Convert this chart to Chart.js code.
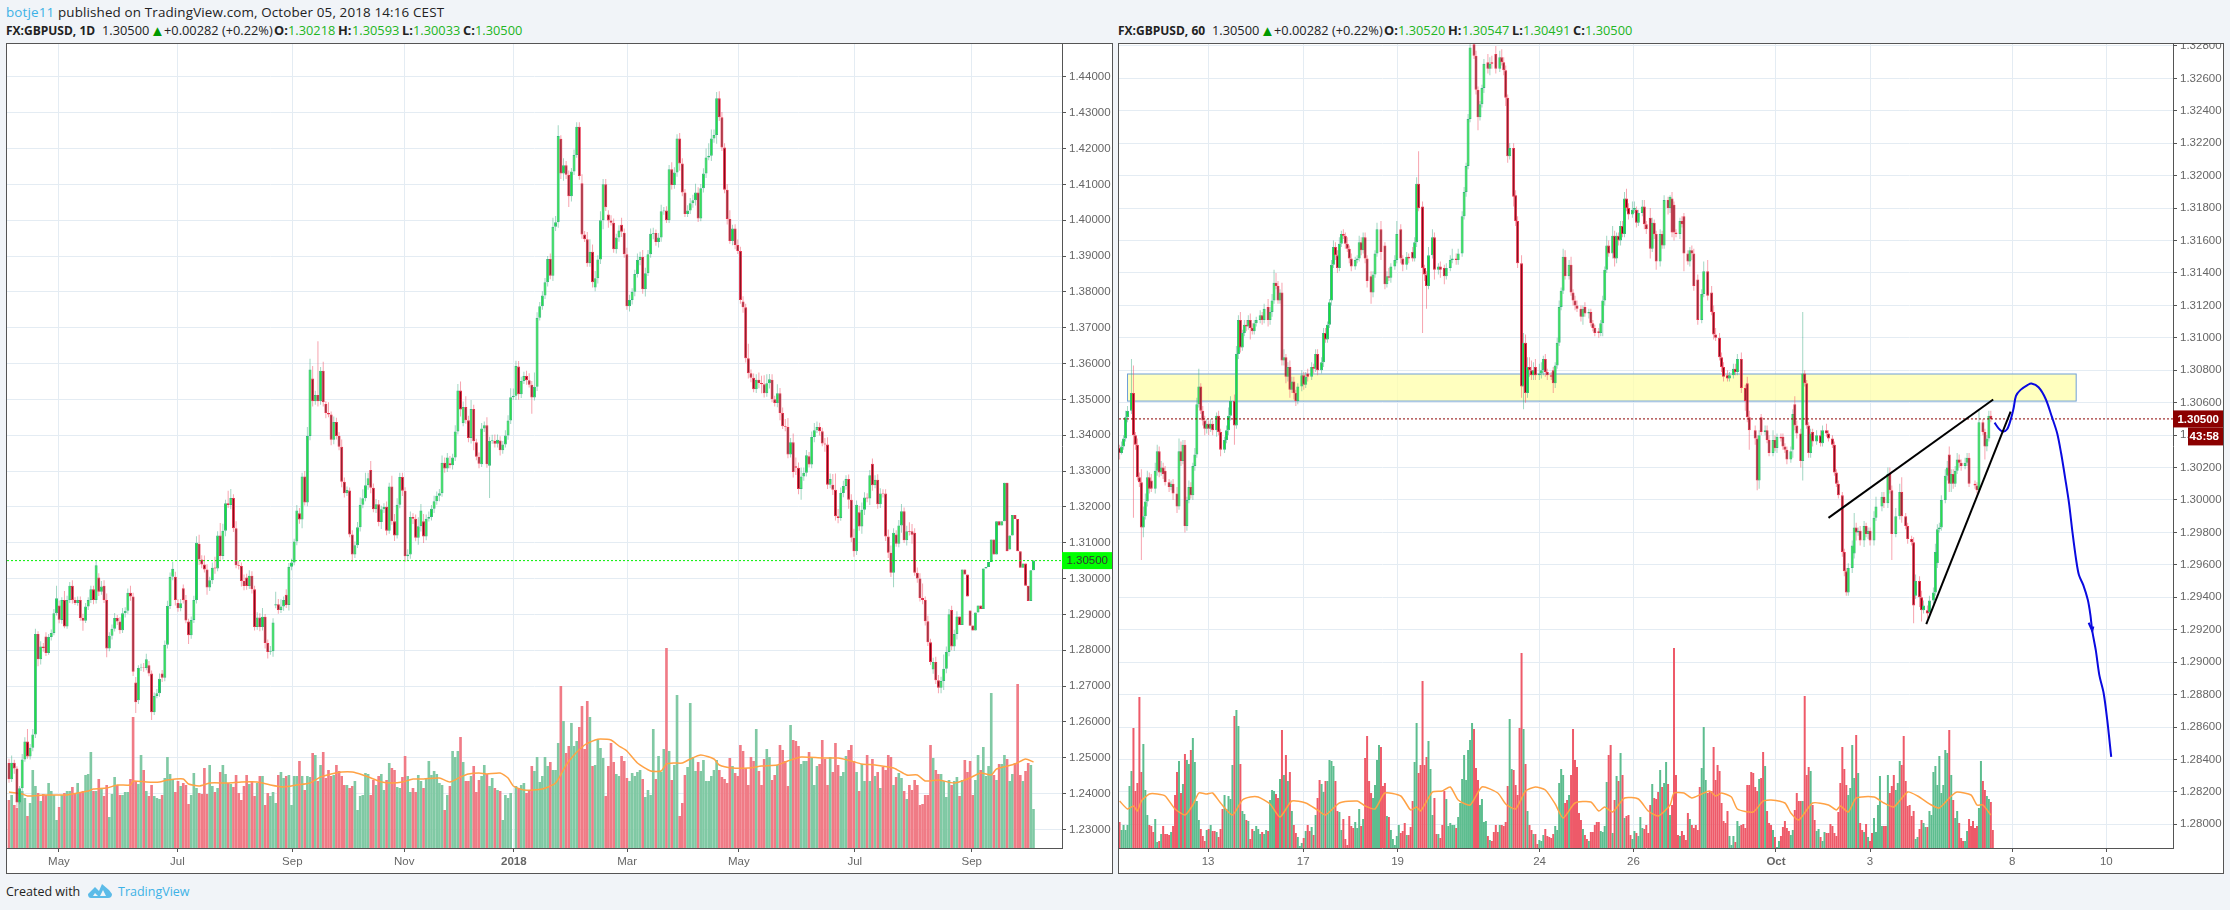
<!DOCTYPE html>
<html>
<head>
<meta charset="utf-8">
<title>GBPUSD</title>
<script src="https://cdn.jsdelivr.net/npm/chart.js@4"></script>
<style>
  html, body { margin: 0; padding: 0; background: #f1f4f8; width: 2230px; height: 910px; overflow: hidden; }
  body { position: relative; font-family: "Open Sans", sans-serif; font-size: 12.8px; color: #222; }
  .txt { position: absolute; white-space: nowrap; line-height: 18px; }
  .label { font-size: 12px; }
  .blue { color: #3db2e6; }
  .val { color: #22b522; }
  .tri { color: #009a00; font-size: 15px; }
  .pane { position: absolute; top: 43px; height: 829px; border: 1px solid #555; background: #fff; }
  canvas { position: absolute; left: 0; top: 0; }
</style>
</head>
<body>
<div class="txt" style="left:6px;top:3px;font-size:13.4px;letter-spacing:0.15px"><span class="blue">botje11</span> published on TradingView.com, October 05, 2018 14:16 CEST</div>
<div class="pane" style="left:6px;width:1105px"><canvas id="dayChart" width="1105" height="829"></canvas></div>
<div class="pane" style="left:1118px;width:1104px"><canvas id="hourChart" width="1104" height="829"></canvas></div>
<div class="txt" style="left:6px;top:883px;font-size:12.5px">Created with</div>
<svg style="position:absolute;left:88px;top:884px" width="24" height="14" viewBox="0 0 24 14"><path d="M0 10 L7 3 L11 7 L14 0 L21 6 L24 10 Q24 14 20 14 L3 14 Q0 14 0 10 Z M7 9 L5 12 L10 12 Z M15 6 L12 12 L18 12 Z" fill="#5cbbe8" fill-rule="evenodd"/></svg>
<div class="txt blue" style="left:118px;top:883px;font-size:12.5px">TradingView</div>

<script>
// prices are kept in pips: 3050 means 1.30500
var dayOpen = [
  2485,2440,2486,2470,2375,2415,2495,2545,2503,2528, 2565,2845,2775,2810,2838,2792,2837,2848,2903,2925,
  2884,2940,2866,2940,2980,2940,2932,2940,2890,2882, 2922,2940,2970,2940,3003,2963,2980,2940,2805,2840,
  2860,2890,2880,2856,2903,2910,2960,2950,2710,2660, 2750,2752,2750,2758,2735,2627,2672,2680,2735,2723,
  2815,2923,3005,3005,2932,2917,2973,2940,2880,2842, 2884,2940,3097,3053,3039,3025,2975,2995,3031,3028,
  3120,3063,3133,3210,3205,3225,3140,3037,3035,2993, 3003,2979,3008,2970,2865,2891,2865,2893,2820,2795,
  2797,2925,2928,2912,2922,2955,2926,3033,3045,3103, 3182,3165,3285,3212,3398,3558,3495,3512,3495,3580,
  3487,3462,3458,3387,3437,3398,3368,3270,3238,3246, 3123,3067,3093,3143,3206,3224,3260,3303,3253,3193,
  3207,3158,3193,3200,3133,3257,3160,3120,3206,3283, 3245,3062,3067,3172,3167,3114,3146,3160,3117,3167,
  3172,3195,3216,3231,3238,3323,3307,3322,3316,3338, 3410,3525,3433,3479,3442,3392,3473,3380,3340,3319,
  3419,3428,3315,3384,3384,3376,3385,3358,3374,3399, 3441,3506,3510,3592,3514,3551,3565,3553,3541,3505,
  3535,3728,3760,3790,3827,3892,3845,3982,3994,
  4227,4130,4153,4127,4067,4136,4182,4261,4103,3960, 3947,3880,3912,3812,3838,3890,4000,4100,4016,3999,
  3993,3919,3952,3987,3965,3905,3760,3777,3800,3850, 3889,3897,3807,3852,3905,3962,3964,3939,3952,4025,
  4027,4000,4142,4098,4133,4228,4158,4077,4017,4027, 4047,4056,4077,4005,4089,4130,4175,4180,4228,4238,
  4340,4287,4203,4085,4003,3942,3977,3931,3914,3773, 3757,3615,3573,3560,3528,3555,3546,3542,3517,3545,
  3555,3500,3490,3517,3462,3425,3423,3346,3380,3313, 3309,3250,3285,3295,3341,3318,3395,3414,3423,3411,
  3377,3374,3262,3262,3248,3174,3169,3239,3258,3278, 3220,3114,3076,3185,3145,3192,3226,3223,3320,3260,
  3276,3207,3237,3237,3117,3072,3016,3123,3097,3148, 3188,3107,3132,3132,3128,3016,3000,2946,2940,2881,
  2822,2746,2767,2716,2695,2714,2748,2795,2912,2810, 2845,2894,2870,3025,3011,2911,2869,2855,2905,2925,
  2915,3028,3032,3046,3109,3067,3160,3148,3160,3267, 3081,3120,3177,3166,3076,3030,3042,2980,2937,3023
];
var dayClose = [
  2440,2486,2470,2375,2415,2495,2545,2503,2528,2565, 2845,2775,2810,2806,2792,2837,2848,2903,2945,2885,
  2940,2866,2940,2980,2940,2932,2940,2890,2882,2922, 2940,2970,2940,3037,2963,2978,2940,2805,2840,2860,
  2890,2880,2856,2903,2910,2960,2950,2740,2655,2750, 2752,2750,2775,2735,2627,2672,2680,2720,2723,2815,
  2923,3005,3027,2940,2917,2931,2940,2883,2842,2884, 2940,3100,3053,3039,3025,2975,2995,3030,3028,3120,
  3063,3133,3210,3205,3225,3140,3037,3035,2993,2979, 2979,3008,2970,2865,2891,2865,2893,2820,2795,2797,
  2877,2928,2912,2922,2940,2926,3033,3045,3103,3190, 3165,3285,3212,3398,3583,3495,3512,3495,3580,3492,
  3462,3458,3387,3437,3398,3368,3270,3238,3247,3123, 3067,3093,3143,3206,3224,3260,3280,3253,3193,3207,
  3158,3193,3200,3133,3257,3160,3120,3206,3283,3245, 3062,3067,3172,3167,3114,3146,3190,3117,3167,3172,
  3195,3216,3231,3238,3323,3307,3338,3316,3338,3410, 3525,3472,3479,3442,3392,3473,3383,3340,3320,3419,
  3428,3319,3384,3386,3376,3387,3358,3374,3399,3441, 3506,3510,3593,3514,3551,3565,3553,3541,3505,3535,
  3728,3760,3790,3827,3892,3845,3982,3994,4235,
  4130,4153,4127,4067,4136,4182,4261,4123,3960,3947, 3880,3912,3827,3838,3890,4000,4100,4036,3999,3993,
  3919,3952,3971,3968,3905,3760,3777,3800,3850,3889, 3897,3807,3852,3905,3962,3964,3939,3952,4025,4027,
  4000,4142,4098,4133,4228,4158,4077,4017,4027,4047, 4056,4077,4005,4089,4130,4175,4180,4228,4238,4340,
  4287,4203,4085,4003,3942,3977,3931,3914,3777,3757, 3615,3573,3560,3528,3555,3546,3542,3517,3545,3556,
  3500,3490,3517,3462,3425,3423,3346,3380,3297,3309, 3250,3285,3295,3344,3318,3395,3414,3423,3411,3377,
  3374,3262,3278,3248,3174,3169,3239,3258,3278,3220, 3114,3076,3206,3145,3192,3226,3223,3288,3260,3276,
  3207,3237,3236,3117,3072,3016,3128,3097,3148,3188, 3107,3132,3130,3122,3016,3000,2946,2940,2881,2822,
  2767,2767,2716,2695,2714,2748,2795,2900,2810,2845, 2894,2870,3025,3011,2950,2868,2855,2905,2925,2915,
  3028,3032,3046,3109,3067,3160,3148,3160,3267,3076, 3120,3177,3166,3076,3030,3042,2980,2937,3023,3050
];
var dayWickUp = [
  12,20,8,6,6,15,12,35,10,15, 15,8,15,10,12,8,10,12,35,14, 8,25,12,10,15,8,10,10,12,10, 8,10,10,15,12,15,15,18,10,12,
  14,8,12,15,10,12,20,10,15,8, 10,12,15,12,8,10,12,15,10,12, 15,12,20,14,10,12,10,14,8,10, 12,18,25,12,25,15,10,15,30,12,
  35,20,10,35,25,10,20,12,10,18, 10,15,12,10,15,12,25,8,10,15, 12,35,15,20,10,15,10,10,8,15, 15,10,15,25,30,35,12,150,10,25,
  8,30,8,15,12,10,20,12,10,8, 12,10,15,20,25,35,15,25,12,15, 12,10,10,15,10,30,20,18,12,12, 10,15,15,10,12,25,18,20,12,15,
  10,15,12,12,20,15,12,20,10,18, 18,25,15,30,12,25,12,10,12,15, 10,22,12,15,18,15,12,10,15,15, 25,20,15,15,12,12,15,20,10,40,
  15,12,12,12,8,15,25,18,30,10, 20,12,12,10,15,12,12,25,10,20, 35,20,20,12,25,15,15,12,15,12, 10,15,20,12,18,15,10,12,18,15,
  20,15,12,15,15,10,12,18,10,12, 12,20,15,12,15,15,10,15,15,15, 25,15,12,15,25,35,25,15,18,20, 15,12,15,25,10,12,15,12,15,10,
  40,10,12,15,20,20,25,25,15,15, 10,25,15,15,20,25,12,25,25,15, 25,15,15,12,15,20,15,12,10,15, 20,15,30,45,20,15,15,10,12,15,
  25,12,18,20,15,12,15,15,12,15, 15,12,12,20,20,12,12,15,20,10, 15,25,20,12,15,15,40,10,15,10, 12,15,15,12,40,15,15,12,12,15
];
var dayWickDown = [
  10,8,15,15,5,8,6,6,8,10, 10,20,15,10,8,5,10,6,6,10, 10,5,6,8,10,6,8,8,28,6, 10,8,12,10,12,8,8,25,8,10,
  8,10,10,8,12,8,12,12,30,10, 8,10,6,8,22,8,6,10,12,10, 10,8,10,15,10,8,10,8,25,10, 8,10,15,10,8,20,10,10,15,8,
  12,10,15,8,12,10,8,10,15,12, 10,8,12,10,8,12,10,15,18,8, 15,8,10,8,12,8,15,10,8,10, 12,25,8,10,12,15,10,15,10,12,
  15,8,15,12,10,10,15,12,8,8, 20,10,8,12,10,8,12,15,8,10, 12,20,10,12,8,10,15,8,10,15, 15,10,12,15,10,20,15,18,10,8,
  10,12,10,15,10,12,10,8,12,10, 8,20,8,10,12,15,25,10,12,8, 10,10,90,8,10,10,15,10,8,12, 10,8,12,15,10,8,12,8,45,8,
  12,8,10,10,12,10,15,12,15,15, 20,12,30,15,10,8,10,12,8,10, 10,15,10,15,12,25,10,20,8,10, 12,12,15,10,10,15,12,12,10,15,
  12,20,8,10,15,10,15,12,10,8, 8,12,10,12,20,10,8,8,10,12, 15,10,8,12,12,8,15,12,25,10, 10,10,15,8,12,12,8,10,15,12,
  15,12,8,10,15,25,12,10,15,8, 10,12,20,8,12,10,8,15,20,15, 30,12,10,8,10,15,8,12,8,20, 12,10,15,12,15,8,12,10,25,12,
  15,10,12,20,15,10,18,15,8,12, 10,10,12,15,12,40,8,10,20,8, 15,10,25,8,12,10,12,12,10,8, 12,10,15,15,25,12,12,10,12,15
];
var dayVolume = [
  48,53,43,40,48,57,50,32,45, 78,62,55,47,54,53,65,57,53,28, 41,53,55,57,57,61,54,65,56,57,
  73,74,96,57,57,69,60,52,63,31, 54,71,63,53,53,56,56,69,131,67, 64,93,78,57,52,63,52,50,49,53,
  70,91,74,68,56,67,62,65,63,44, 53,75,60,55,54,80,54,83,62,56, 60,76,83,74,65,64,61,73,55,48,
  62,73,64,67,52,65,72,72,43,55, 52,56,45,73,76,70,72,73,43, 72,72,87,72,58,72,71,95,93,67,
  83,96,70,78,72,73,83,77,72,63, 63,60,62,67,38,52,53,75,74,53, 68,63,72,74,58,68,85,80,78,61,
  60,71,92,72,56,60,56,73,67,60, 70,87,73,77,74,65,63,38,53,62, 97,91,97,111,86,67,67,72,82,56,
  68,72,83,74,62,70,60,58,57,28, 53,50,55,0,62,60,63,65,55,57, 82,77,91,66,72,91,82,86,78,78, 105,
  162,127,95,102,125,102,107,121,142,99, 147,131,82,83,108,100,90,52,82,105, 86,74,72,92,87,70,67,75,72,76,
  78,69,51,58,53,119,69,92,76,99, 200,97,68,83,153,32,45,73,81,145, 91,77,86,77,88,67,67,72,78,88,
  78,71,69,65,90,82,75,72,103,97, 80,63,91,87,119,77,63,89,99,91, 68,73,83,103,98,87,62,123,108,107,
  102,84,87,87,96,90,63,82,84,108, 89,63,91,76,105,83,72,76,92,98, 103,87,76,57,84,67,93,67,89,72,
  76,60,81,78,93,91,63,71,75,70, 57,49,63,58,68,63,43,44,53,53, 103,90,78,74,74,67,51,68,63,67,
  71,52,68,88,76,87,53,68,93,78, 101,72,82,155,73,68,84,84,93,89, 67,74,85,164,73,67,77,85,83,39
];
var dayMaAt = [0,5,7,13,17,22,26,30,32,37,41,46,47,52,57,60,66,68,72,76,83,88,94,99,104,109,114,118,122,126,130,134,139,141,145,149,153,157,163,167,171,174,178,181,186,189,191,195,202,207,211,214,218,222,224,228,231,234,238,243,247,249,252,255,258,262,267,269,274,280,285,291,295,300,308,314,319,323,328,335,340,344,347,352,358,363,368,372,374,381,385,388];
var dayMa = [56,54,52,53,53,53,55,57,59,60,63,63,67,66,66,68,69,64,62,65,65,66,66,63,61,63,65,71,74,76,76,73,68,66,65,66,69,69,70,66,71,74,75,74,75,70,62,58,59,65,83,93,103,108,109,108,102,97,85,77,77,84,85,85,89,93,89,83,80,80,82,83,87,91,90,90,87,84,83,80,73,73,67,68,65,69,75,73,79,84,89,86];
var dayPriceTicks = [1.23,1.24,1.25,1.26,1.27,1.28,1.29,1.30,1.31,1.32,1.33,1.34,1.35,1.36,1.37,1.38,1.39,1.40,1.41,1.42,1.43,1.44];
var dayTimeTicks = [18.9,63.8,107.3,149.7,191.2,234.1,276.4,320.3,364.6];
var dayTimeLabels = ['May','Jul','Sep','Nov','2018','Mar','May','Jul','Sep'];

// hourly chart, hourSlot says which bar slot each candle sits in
var hourSlot = [
  0,1,2,3,4,6,7,8,9,10, 11,12,13,14,15,16,18,19,20,21, 22,23,25,26,27,29,30,31,32,33, 34,35,36,37,38,39,40,41,42,43,
  44,45,46,47,49,50,51,53,54,55, 56,58,59,60,61,62,63,64,65,66, 67,68,69,71,72,73,75,76,77,78, 79,80,81,82,83,84,85,86,87,88,
  89,90,92,93,94,95,97,98,99,100, 102,103,104,105,106,107,108,109,110,111, 112,113,114,115,116,117,119,120,121,122, 123,124,125,127,128,129,130,132,134,135,
  136,137,139,140,142,143,145,146,148,149, 150,151,153,154,155,156,158,159,161,162, 164,165,167,168,170,171,173,174,175,176, 177,179,180,181,182,183,184,186,187,188,
  190,192,193,194,195,196,197,199,200,201, 203,204,205,206,207,208,209,210,212,213, 214,215,216,218,219,220,221,222,223,224, 225,227,228,229,230,231,233,234,235,237,
  238,239,240,242,243,244,245,246,247,249, 250,251,252,253,254,255,256,257,259,260, 261,262,264,265,266,268,269,270,271,273, 274,275,277,278,279,280,281,283,284,285,
  287,288,289,290,292,294,295,297,299,300, 301,303,304,305,307,308,310,311,312,314, 316,317,318,321,322,323,324,326,327,328, 330,331,332,334,335,336,337,339,340,341,
  342,344,345,346,347,348,349,350,352,354, 355,357,358,360,361,362,363,365,366,367, 368,370,371,372,373,374,376,377,378,379, 381,382,385,386,388,389,390,392,394,395,
  397,398,400,401,402,404,405,406,408,409, 411,412,413,414,415,417,418,419,420,421, 422,423,424,425,427,428,429,432,433,434, 436,437,438,439,440
];
var hourOpen = [
  3032,3029,3033,3038,3051,3055,3066,3040,3034,3014, 3011,2983,2990,2999,3014,3012,3007,3018,3030,3017, 3020,3018,3011,3008,3010,3004,2996,3030,3024,3034, 2984,3000,3008,3003,3021,3028,3059,3070,3055,3049,
  3044,3047,3044,3047,3043,3052,3042,3031,3037,3043, 3052,3061,3046,3090,3111,3094,3103,3108,3107,3111, 3106,3104,3109,3111,3114,3111,3119,3111,3116,3123, 3134,3132,3123,3128,3086,3088,3076,3082,3068,3073,
  3066,3061,3070,3077,3071,3078,3076,3082,3081,3090, 3080,3085,3103,3099,3108,3123,3145,3156,3151,3143, 3158,3164,3163,3158,3155,3149,3144,3148,3149,3159, 3154,3162,3149,3138,3128,3139,3152,3167,3157,3133,
  3138,3137,3144,3148,3167,3149,3145,3150,3153,3149, 3159,3195,3181,3143,3139,3132,3151,3162,3142,3144, 3143,3138,3143,3148,3149,3148,3152,3175,3190,3206, 3235,3281,3274,3253,3236,3244,3254,3270,3266,3270,
  3275,3266,3273,3270,3265,3248,3212,3217,3188,3172, 3146,3070,3097,3066,3082,3080,3077,3082,3077,3078, 3080,3087,3079,3077,3080,3072,3083,3097,3119,3129, 3150,3138,3145,3128,3123,3120,3118,3113,3119,3115,
  3116,3109,3106,3104,3103,3109,3123,3142,3157,3152, 3163,3149,3163,3160,3169,3164,3186,3180,3176,3179, 3179,3171,3177,3181,3170,3174,3155,3171,3164,3147, 3164,3157,3185,3180,3186,3182,3165,3164,3172,3175,
  3152,3147,3154,3152,3136,3111,3127,3141,3128,3116, 3102,3100,3088,3082,3077,3075,3077,3081,3079,3087, 3069,3072,3051,3043,3038,3012,3051,3042,3043,3037, 3029,3037,3032,3039,3039,3033,3031,3025,3031,3059,
  3046,3041,3024,3078,3072,3046,3029,3042,3036,3040, 3035,3043,3041,3038,3034,3017,3010,3003,2968,2956, 2943,2958,2967,2983,2980,2981,2975,2984,2979,2981, 2975,2989,2996,3002,2998,3016,3006,2979,2990,3005,
  2990,2984,2976,2974,2941,2950,2940,2932,2932,2931, 2938,2943,2961,2982,2983,3000,3015,3028,3010,3016, 3010,3018,3025,3023,3021,3023,3026,3010,3009,3006, 3048,3042,3033,3038,3052
];
var hourClose = [
  3029,3033,3038,3051,3055,3066,3040,3034,3014,3011, 2983,2990,2999,3014,3007,3007,3018,3030,3017,3020, 3016,3011,3008,3010,3004,2996,3030,3024,3034,2984, 3000,3008,3003,3021,3028,3059,3070,3055,3049,3044,
  3047,3044,3047,3043,3052,3042,3031,3037,3043,3052, 3061,3046,3090,3111,3094,3103,3108,3107,3111,3106, 3104,3109,3111,3114,3111,3118,3111,3116,3123,3134, 3132,3123,3128,3086,3088,3076,3082,3068,3073,3066,
  3061,3070,3077,3071,3076,3076,3082,3081,3090,3080, 3085,3103,3099,3108,3122,3145,3156,3151,3143,3158, 3164,3163,3158,3155,3149,3144,3148,3149,3159,3154, 3162,3149,3135,3128,3139,3152,3167,3153,3133,3138,
  3137,3144,3148,3164,3149,3145,3150,3149,3149,3159, 3195,3180,3143,3139,3132,3151,3162,3142,3144,3142, 3138,3143,3148,3149,3148,3152,3175,3190,3206,3235, 3279,3274,3253,3236,3244,3254,3269,3266,3269,3269,
  3266,3273,3270,3265,3248,3212,3217,3187,3172,3146, 3070,3097,3066,3082,3080,3077,3080,3077,3078,3080, 3087,3079,3077,3076,3072,3083,3097,3119,3129,3150, 3138,3145,3128,3123,3120,3118,3113,3118,3115,3116,
  3109,3106,3103,3103,3109,3123,3142,3157,3152,3163, 3149,3163,3160,3169,3164,3186,3180,3176,3179,3180, 3171,3177,3181,3170,3167,3155,3171,3164,3147,3164, 3157,3185,3180,3187,3165,3165,3164,3172,3170,3152,
  3147,3154,3152,3132,3111,3127,3141,3126,3116,3102, 3100,3088,3082,3076,3075,3077,3081,3079,3087,3069, 3061,3051,3043,3038,3012,3040,3042,3043,3037,3029, 3037,3032,3039,3038,3033,3031,3025,3030,3053,3046,
  3041,3024,3078,3072,3046,3029,3041,3036,3040,3035, 3043,3041,3038,3034,3017,3010,3003,2968,2956,2943, 2958,2972,2983,2980,2981,2975,2984,2979,2981,2975, 2989,2996,3002,2998,3016,3006,2979,2990,3005,2990,
  2984,2976,2974,2935,2950,2940,2932,2935,2930,2938, 2943,2968,2982,2983,3000,3015,3020,3010,3016,3010, 3018,3025,3023,3021,3023,3026,3010,3009,3006,3048, 3042,3033,3038,3052,3050
];
var hourWickUp = [
  2,3,2,4,3,21,17,2,4,3, 8,6,5,4,3,4,5,4,3,4, 3,3,2,2,3,4,8,6,3,3, 2,4,3,2,4,4,11,2,3,3,
  3,2,3,2,2,3,2,2,3,5, 3,4,5,3,5,2,3,3,3,4, 3,2,2,3,2,3,5,3,4,8, 6,3,2,6,5,2,3,4,3,3,
  2,2,3,2,3,3,3,2,3,3, 3,3,3,2,2,3,4,3,3,4, 2,3,2,4,2,3,2,2,4,3, 3,3,2,3,2,2,4,5,2,3,
  5,2,3,8,3,2,3,2,3,3, 4,20,3,2,2,5,5,3,2,3, 2,3,3,6,3,3,3,3,2,3, 2,6,3,2,2,2,3,5,4,4,
  5,4,5,3,3,2,3,3,3,3, 5,6,5,6,6,6,5,5,6,5, 2,3,2,2,2,2,3,4,2,5, 4,3,5,2,3,3,2,2,3,2,
  2,2,2,2,2,3,2,6,3,6, 3,2,2,3,3,4,6,3,5,4, 2,2,4,4,2,6,3,2,2,3, 2,3,2,1,4,2,2,2,3,2,
  2,2,3,3,3,3,6,7,4,4, 4,3,3,3,3,2,3,3,3,4, 2,4,4,3,2,3,2,3,3,3, 6,3,2,2,2,2,2,3,3,5,
  3,3,38,2,2,2,3,2,3,3, 3,4,2,2,2,2,2,2,2,2, 3,3,9,3,2,3,3,2,2,2, 4,6,3,3,4,4,3,5,5,9,
  2,2,2,3,4,3,4,3,3,3, 3,5,3,3,3,4,4,5,3,3, 3,4,3,2,3,3,3,2,2,8, 2,2,2,3,3
];
var hourWickDown = [
  4,1,2,2,3,2,51,3,2,3, 20,6,2,3,3,2,3,3,3,2, 3,2,3,2,4,4,2,3,2,4, 3,2,2,3,3,2,2,2,3,4,
  3,4,2,3,4,2,4,2,2,3, 3,12,2,3,3,2,2,3,2,7, 2,2,2,2,3,2,4,3,3,2, 2,2,2,3,3,4,3,5,2,4,
  3,2,3,3,2,3,2,3,2,3, 2,3,2,2,2,3,2,3,3,2, 2,2,3,2,3,3,2,2,2,3, 2,3,4,7,3,2,2,5,3,2,
  2,3,2,2,3,4,3,3,2,2, 3,2,40,4,14,2,2,6,3,5, 5,2,2,2,3,3,2,2,3,2, 2,2,3,8,2,2,3,3,4,3,
  3,2,2,3,5,4,2,6,3,3, 7,14,6,3,4,3,3,3,3,3, 3,3,3,2,6,3,2,2,2,2, 2,2,2,3,3,2,3,5,2,3,
  2,2,2,3,2,8,3,2,2,3, 5,3,3,3,2,2,2,3,2,2, 3,2,2,3,3,6,2,3,5,3, 2,2,4,3,3,5,2,3,2,11,
  2,3,4,3,3,2,2,3,2,3, 2,2,3,3,2,2,2,2,2,3, 6,3,12,4,6,5,2,2,2,2, 2,2,3,2,2,2,3,2,5,3,
  3,4,12,2,2,3,3,3,2,2, 2,2,2,2,2,2,2,3,3,2, 2,3,3,5,2,3,4,2,3,3, 3,2,3,3,3,2,16,2,2,4,
  2,3,2,11,2,6,7,2,3,2, 2,2,3,2,2,2,3,5,5,3, 2,2,3,3,2,2,2,2,2,2, 2,8,3,2,2
];
var hourVolume = [
  26,18,23,18,23,62,77,120,57,65, 151,76,104,58,33,23,22,16,29,6, 7,14,22,14,14,13,16,22,53,76,
  87,55,64,94,88,84,98,110,86,47,28, 19,12,7,18,19,23,17,17,16,11, 19,39,53,39,52,49,83,132,138,122,
  84,37,34,28,27,9,19,17,22,19,14, 16,14,18,17,48,58,57,54,50,69, 118,73,93,67,76,37,23,15,11,2,
  5,10,17,23,17,21,13,33,50,68,64, 56,67,67,88,87,82,67,37,36,18, 29,9,3,32,22,20,26,20,39,22,
  29,90,112,67,55,50,63,88,103,101, 62,65,32,31,18,9,3,12,23,15, 17,25,13,13,21,47,86,125,75,83,
  167,83,91,107,79,33,50,14,14,10, 23,57,49,22,25,23,23,20,31,45, 69,93,68,98,108,125,119,80,68,43,
  49,26,27,12,8,7,16,23,16,23,23, 22,26,62,129,79,78,63,53,120,195, 119,84,37,23,18,14,14,4,8,7,
  13,19,12,11,10,14,22,18,65,79,73,45, 48,53,73,119,88,81,35,28,19,13, 9,7,16,16,23,26,26,17,16,22,
  66,93,103,15,48,72,67,95,73,30, 32,33,13,9,17,15,12,31,20,19, 23,15,43,64,50,49,56,78,61,65, 86,64,33,
  43,200,73,13,12,17,13,8,35,29,23, 20,23,18,61,80,121,68,55,57,57, 101,68,83,77,45,27,25,37,12,3,
  12,6,27,22,23,24,20,63,63,76, 75,61,57,69,70,96,82,37,25,23, 18,11,1,7,12,21,27,20,17,13,
  18,38,55,47,47,47,152,73,81,77, 43,28,17,19,11,7,16,15,15,24, 22,15,12,36,65,101,79,63,53,60,
  103,70,113,75,25,18,16,24,11,7, 15,30,16,43,72,22,22,22,73,55, 62,73,58,65,87,83,112,67,42,43,
  32,37,9,11,19,28,25,21,21,37, 33,76,82,63,92,55,63,98,95,118, 73,48,30,37,25,10,7,7,17,29,
  22,27,20,22,40,87,67,58,52,49, 46,18
];
var hourMaAt = [0,4,7,9,11,15,19,23,28,33,37,40,44,47,51,57,62,66,70,76,81,87,94,100,104,111,120,124,129,134,142,147,150,152,158,163,167,171,177,183,191,195,200,205,210,215,220,224,230,238,242,245,249,255,262,267,272,278,280,285,289,294,298,301,304,309,312,320,325,329,336,339,343,350,358,362,364,368,372,381,386,391,398,403,410,414,420,423,430,433,436,440];
var hourMa = [47,39,42,37,47,54,54,52,39,33,43,55,54,55,45,33,48,51,51,44,31,47,45,38,33,45,47,42,39,55,52,38,41,37,56,57,61,48,43,61,55,44,39,57,61,58,44,30,45,46,37,41,36,50,49,37,32,43,55,55,50,54,57,52,55,51,39,36,47,48,45,35,28,45,43,38,42,36,50,51,45,41,56,52,43,40,52,56,53,43,43,33];
var hourPriceTicks = [1.28,1.282,1.284,1.286,1.288,1.29,1.292,1.294,1.296,1.298,1.30,1.302,1.304,1.306,1.308,1.31,1.312,1.314,1.316,1.318,1.32,1.322,1.324,1.326,1.328];
var hourTimeTicks = [44.7,92.7,140.4,212.1,259.5,331.5,379,450.8,498.3];
var hourTimeLabels = ['13','17','19','24','26','Oct','3','8','10'];

// drawings on the hourly chart, in bar slots and pips
var topLineSlots = [358,441.2];
var topLinePips = [2989,3062];
var lowLineSlots = [407.4,450];
var lowLinePips = [2923.5,3054.5];
var curveSlots = [441.9,443.9,446,448.2,450,451.5,452.7,455,458.7,460.5,464.1,467.7,470.8,473.5,475.5,477.7,479.5,481.3,483.1,484.5,486.7,489,490.3,491.2,493,494.8,497,498.8,500.8];
var curvePips = [3047.7,3044.2,3042.2,3043.6,3049.4,3056.6,3064.2,3067.9,3071,3071.8,3069.5,3062.3,3051.4,3041.2,3028.8,3012.3,2997.9,2979.4,2963,2953.7,2947.5,2938.3,2929,2919.4,2907.4,2892,2880.7,2864.2,2841.6];
var arrowSlots = [489.4,491.2,491.8];
var arrowPips = [2924.3,2919.4,2922];
var zoneSlots = [4,483.1];
var zonePrices = [1.30610,1.30777];

var lastPrice = 1.305;

// header row: label, then O H L C
var dayHeader = ['FX:GBPUSD, 1D','1.30218','1.30593','1.30033','1.30500'];
var hourHeader = ['FX:GBPUSD, 60','1.30520','1.30547','1.30491','1.30500'];

function headerRow(offset, labelLeft, values) {
  var parts = [
    [labelLeft, '<b class="label">' + values[0] + '</b>'],
    [102, '1.30500'],
    [150, '<span class="tri">▲</span>'],
    [164, '+0.00282 (+0.22%)'],
    [274, '<b>O:</b>'], [288, '<span class="val">' + values[1] + '</span>'],
    [338, '<b>H:</b>'], [352, '<span class="val">' + values[2] + '</span>'],
    [402, '<b>L:</b>'], [413, '<span class="val">' + values[3] + '</span>'],
    [463, '<b>C:</b>'], [475, '<span class="val">' + values[4] + '</span>']
  ];
  parts.forEach(function (p) {
    var el = document.createElement('div');
    el.className = 'txt';
    el.style.left = (offset + p[0]) + 'px';
    el.style.top = '21px';
    el.innerHTML = p[1];
    document.body.appendChild(el);
  });
}

headerRow(0, 6, dayHeader);
headerRow(1110, 8, hourHeader);

function price(pips) {
  return 1 + pips / 10000;
}

function xyLine(xs, ys, color, width, tension) {
  return {
    type: 'line',
    data: xs.map(function (x, i) { return { x: x, y: price(ys[i]) }; }),
    borderColor: color,
    borderWidth: width,
    pointRadius: 0,
    tension: tension || 0,
    order: 0
  };
}

function candleSets(slots, opens, closes, ups, downs) {
  var wicks = [], bodies = [], wickColors = [], bodyColors = [], edgeColors = [];
  opens.forEach(function (o, i) {
    var c = closes[i];
    var rising = c >= o;
    var high = Math.max(o, c) + (ups[i] || 0);
    var low = Math.min(o, c) - (downs[i] || 0);
    wicks.push({ x: slots[i], y: [price(low), price(high)] });
    bodies.push({ x: slots[i], y: [price(o), price(c)] });
    wickColors.push(rising ? 'rgba(70,175,135,0.5)' : 'rgba(240,90,110,0.55)');
    bodyColors.push(rising ? '#12e335' : '#7d0413');
    edgeColors.push(rising ? '#39b97c' : '#e6304a');
  });
  return [
    { data: wicks, backgroundColor: wickColors, barThickness: 1, order: 3 },
    { data: bodies, backgroundColor: bodyColors, borderColor: edgeColors, borderWidth: 1, borderSkipped: false, barThickness: 3, order: 2 }
  ];
}

function volumeSet(slots, opens, closes, volume, thickness, green, red) {
  // a slot without its own candle takes the colour of the candle before it
  var colors = [];
  var k = 0;
  volume.forEach(function (v, i) {
    while (k < slots.length - 1 && slots[k + 1] <= i) k++;
    colors.push(closes[k] >= opens[k] ? green : red);
  });
  return {
    yAxisID: 'y2',
    data: volume.map(function (v, i) { return { x: i, y: v }; }),
    backgroundColor: colors,
    barThickness: thickness,
    order: 5
  };
}

function maSet(at, values) {
  return {
    type: 'line',
    yAxisID: 'y2',
    data: at.map(function (x, i) { return { x: x, y: values[i] }; }),
    borderColor: '#ffa245',
    borderWidth: 1.5,
    pointRadius: 0,
    tension: 0.2,
    order: 4
  };
}

function lastPriceSet(xMin, xMax, color) {
  return {
    type: 'line',
    data: [{ x: xMin, y: lastPrice }, { x: xMax, y: lastPrice }],
    borderColor: color,
    borderWidth: 1,
    borderDash: [2, 2],
    pointRadius: 0,
    order: 1
  };
}

function tag(chart, value, top, height, left, fill, color, text, bold) {
  var ctx = chart.ctx;
  var y = value === null ? top : chart.scales.y.getPixelForValue(value) - height / 2;
  ctx.save();
  ctx.fillStyle = fill;
  ctx.fillRect(left, y, chart.width - left, height);
  ctx.fillStyle = color;
  ctx.font = (bold ? 'bold ' : '') + '11.5px "Liberation Sans"';
  ctx.textBaseline = 'middle';
  ctx.textAlign = 'right';
  ctx.fillText(text, chart.width - 4, y + height / 2 + 0.5);
  ctx.restore();
}

function makeChart(id, cfg) {
  return new Chart(document.getElementById(id), {
    type: 'bar',
    data: { datasets: cfg.datasets },
    options: {
      responsive: false,
      animation: false,
      devicePixelRatio: 1,
      events: [],
      layout: { padding: 0 },
      datasets: { bar: { grouped: false, inflateAmount: 0 } },
      plugins: { legend: { display: false }, tooltip: { enabled: false } },
      scales: {
        x: {
          type: 'linear',
          offset: false,
          min: cfg.xMin,
          max: cfg.xMax,
          grid: { color: '#e4ecf3', tickColor: '#555', tickLength: 4, offset: false },
          border: { color: '#555' },
          ticks: {
            autoSkip: false,
            maxRotation: 0,
            padding: 3,
            color: '#666',
            font: function (c) {
              var label = c.tick ? cfg.timeLabels[cfg.timeTicks.indexOf(c.tick.value)] : '';
              return { family: '"Liberation Sans"', size: 11.5, weight: (label === '2018' || label === 'Oct') ? 'bold' : 'normal' };
            },
            callback: function (v) { return cfg.timeLabels[cfg.timeTicks.indexOf(v)]; }
          },
          afterBuildTicks: function (s) {
            s.ticks = cfg.timeTicks.map(function (v) { return { value: v }; });
          },
          afterFit: function (s) { s.height = 25; s.paddingLeft = 0; s.paddingRight = 0; }
        },
        y: {
          position: 'right',
          min: cfg.yMin,
          max: cfg.yMax,
          grid: { color: '#e4ecf3', tickColor: '#555', tickLength: 4 },
          border: { color: '#555' },
          ticks: {
            padding: 3,
            color: '#666',
            autoSkip: false,
            font: { family: '"Liberation Sans"', size: 11.5 },
            callback: function (v) { return v.toFixed(5); }
          },
          afterBuildTicks: function (s) {
            s.ticks = cfg.priceTicks.map(function (v) { return { value: v }; });
          },
          afterFit: function (s) { s.width = 50; s.paddingTop = 0; s.paddingBottom = 0; }
        },
        y2: { display: false, min: 0, max: 804 }
      }
    },
    plugins: cfg.plugins
  });
}

var dayXMin = -0.76, dayXMax = 398.8;
var daySlots = dayOpen.map(function (o, i) { return i; });

makeChart('dayChart', {
  xMin: dayXMin, xMax: dayXMax, yMin: 1.2248, yMax: 1.44917,
  priceTicks: dayPriceTicks, timeTicks: dayTimeTicks, timeLabels: dayTimeLabels,
  datasets: [
    volumeSet(daySlots, dayOpen, dayClose, dayVolume, 2.64, '#80c9a4', '#f07b86'),
    maSet(dayMaAt, dayMa)
  ].concat(candleSets(daySlots, dayOpen, dayClose, dayWickUp, dayWickDown), [
    lastPriceSet(dayXMin, dayXMax, '#00f000')
  ]),
  plugins: [{
    id: 'dayTag',
    afterDraw: function (chart) {
      tag(chart, lastPrice, 0, 17, chart.chartArea.right, '#00ff00', '#333', lastPrice.toFixed(5), false);
    }
  }]
});

var hourXMin = -0.3, hourXMax = 532;

makeChart('hourChart', {
  xMin: hourXMin, xMax: hourXMax, yMin: 1.27854, yMax: 1.32812,
  priceTicks: hourPriceTicks, timeTicks: hourTimeTicks, timeLabels: hourTimeLabels,
  datasets: [
    volumeSet(hourSlot, hourOpen, hourClose, hourVolume, 2, '#5dbd8f', '#ee5a69'),
    maSet(hourMaAt, hourMa)
  ].concat(candleSets(hourSlot, hourOpen, hourClose, hourWickUp, hourWickDown), [
    lastPriceSet(hourXMin, hourXMax, '#8b0000'),
    xyLine(topLineSlots, topLinePips, '#000', 2),
    xyLine(lowLineSlots, lowLinePips, '#000', 2),
    xyLine(curveSlots, curvePips, '#0a0ae0', 2, 0.3),
    xyLine(arrowSlots, arrowPips, '#0a0ae0', 2)
  ]),
  plugins: [{
    id: 'hourZone',
    beforeDatasetsDraw: function (chart) {
      var x = chart.scales.x, y = chart.scales.y, ctx = chart.ctx;
      var left = x.getPixelForValue(zoneSlots[0]), right = x.getPixelForValue(zoneSlots[1]);
      var top = y.getPixelForValue(zonePrices[1]), bottom = y.getPixelForValue(zonePrices[0]);
      ctx.save();
      ctx.fillStyle = 'rgba(255,255,170,0.75)';
      ctx.fillRect(left, top, right - left, bottom - top);
      ctx.strokeStyle = '#6f9fd8';
      ctx.lineWidth = 1;
      ctx.strokeRect(left, top, right - left, bottom - top);
      ctx.restore();
    },
    afterDraw: function (chart) {
      var a = chart.chartArea.right;
      tag(chart, lastPrice, 0, 17, a, '#8b0000', '#fff', lastPrice.toFixed(5), true);
      var y = chart.scales.y.getPixelForValue(lastPrice) + 8.5;
      tag(chart, null, y, 18, a + 15, '#8b0000', '#fff', '43:58', true);
    }
  }]
});
</script>
</body>
</html>
